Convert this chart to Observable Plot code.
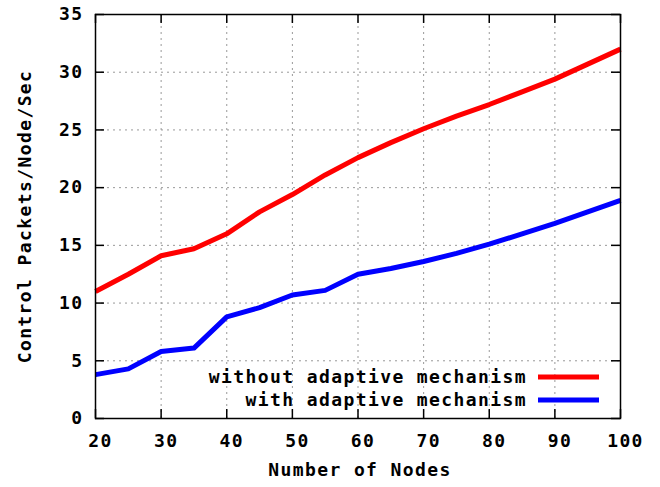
<!DOCTYPE html>
<html>
<head>
<meta charset="utf-8">
<script src="https://cdn.jsdelivr.net/npm/d3@7"></script>
<script src="https://cdn.jsdelivr.net/npm/@observablehq/plot@0.6"></script>
<style>
  html, body { margin: 0; padding: 0; background: #fff; }
  #chart svg text { letter-spacing: 1.4px; }
</style>
</head>
<body>
<div id="chart"></div>
<script>
const nodes = [20, 25, 30, 35, 40, 45, 50, 55, 60, 65, 70, 75, 80, 85, 90, 95, 100];
const withoutAdaptive = [11.0, 12.5, 14.1, 14.7, 16.0, 17.9, 19.4, 21.1, 22.6, 23.9, 25.1, 26.2, 27.2, 28.3, 29.4, 30.7, 32.0];
const withAdaptive = [3.8, 4.3, 5.8, 6.1, 8.8, 9.6, 10.7, 11.1, 12.5, 13.0, 13.6, 14.3, 15.1, 16.0, 16.9, 17.9, 18.9];
const seriesNames = ["without adaptive mechanism", "with adaptive mechanism"];
const seriesColors = ["#ff0000", "#0000ff"];
const xTicks = [20, 30, 40, 50, 60, 70, 80, 90, 100];
const yTicks = [0, 5, 10, 15, 20, 25, 30, 35];
const xTitle = "Number of Nodes";
const yTitle = "Control Packets/Node/Sec";

const W = 660, H = 487, mL = 95, mR = 40, mT = 14, mB = 69;
const xDom = [20, 100], yDom = [0, 35];
const tickPx = 9;
const tx = tickPx * (xDom[1] - xDom[0]) / (W - mL - mR);
const ty = tickPx * (yDom[1] - yDom[0]) / (H - mT - mB);

const rows = [];
nodes.forEach((n, i) => {
  rows.push({n, v: withoutAdaptive[i], s: seriesNames[0]});
});
nodes.forEach((n, i) => {
  rows.push({n, v: withAdaptive[i], s: seriesNames[1]});
});

const grid = {stroke: "#999", strokeWidth: 1, strokeDasharray: "2,4", strokeOpacity: 1};
const FONT = "'DejaVu Sans Mono', monospace";

const chart = Plot.plot({
  width: W, height: H,
  marginLeft: mL, marginRight: mR, marginTop: mT, marginBottom: mB,
  style: {fontFamily: FONT, fontSize: "18px", fontWeight: "bold", background: "#fff"},
  x: {domain: xDom, label: null},
  y: {domain: yDom, label: null},
  color: {domain: seriesNames, range: seriesColors},
  marks: [
    Plot.ruleX(xTicks.slice(1, -1), {...grid}),
    Plot.ruleY(yTicks.slice(1, -1), {...grid}),
    // inward ticks (bottom, top, left, right)
    Plot.ruleX(xTicks, {x: d => d, y1: yDom[0], y2: yDom[0] + ty, stroke: "#000", strokeWidth: 1.5}),
    Plot.ruleX(xTicks, {x: d => d, y1: yDom[1], y2: yDom[1] - ty, stroke: "#000", strokeWidth: 1.5}),
    Plot.ruleY(yTicks, {y: d => d, x1: xDom[0], x2: xDom[0] + tx, stroke: "#000", strokeWidth: 1.5}),
    Plot.ruleY(yTicks, {y: d => d, x1: xDom[1], x2: xDom[1] - tx, stroke: "#000", strokeWidth: 1.5}),
    Plot.axisX(xTicks, {tickSize: 0, tickPadding: 16, dx: 5, fill: "#000", label: null}),
    Plot.axisY(yTicks, {tickSize: 0, tickPadding: 12, fill: "#000", label: null}),
    Plot.line(rows, {x: "n", y: "v", z: "s", stroke: "s", strokeWidth: 5, strokeLinejoin: "round", strokeLinecap: "butt"}),
    Plot.frame({stroke: "#000", strokeWidth: 1.5}),
    Plot.text([xTitle], {frameAnchor: "bottom", dy: 57, dx: 2, fill: "#000", textAnchor: "middle"}),
    Plot.text([yTitle], {frameAnchor: "left", rotate: -90, dx: -70, fill: "#000", textAnchor: "middle"})
  ]
});

document.getElementById("chart").appendChild(chart);

// legend (gnuplot style key, bottom right inside the frame)
const svg = d3.select(chart);
const right = W - mR, bottom = H - mB;
const key = svg.append("g").attr("font-family", FONT).attr("font-size", 18).attr("font-weight", "bold");
seriesNames.forEach((name, i) => {
  const y = bottom - 41 + i * 23;
  key.append("text").attr("x", right - 93).attr("y", y).attr("dy", "0.35em")
    .attr("text-anchor", "end").attr("fill", "#000").text(name);
  key.append("line").attr("x1", right - 82).attr("x2", right - 21).attr("y1", y).attr("y2", y)
    .attr("stroke", seriesColors[i]).attr("stroke-width", 5);
});
</script>
</body>
</html>
